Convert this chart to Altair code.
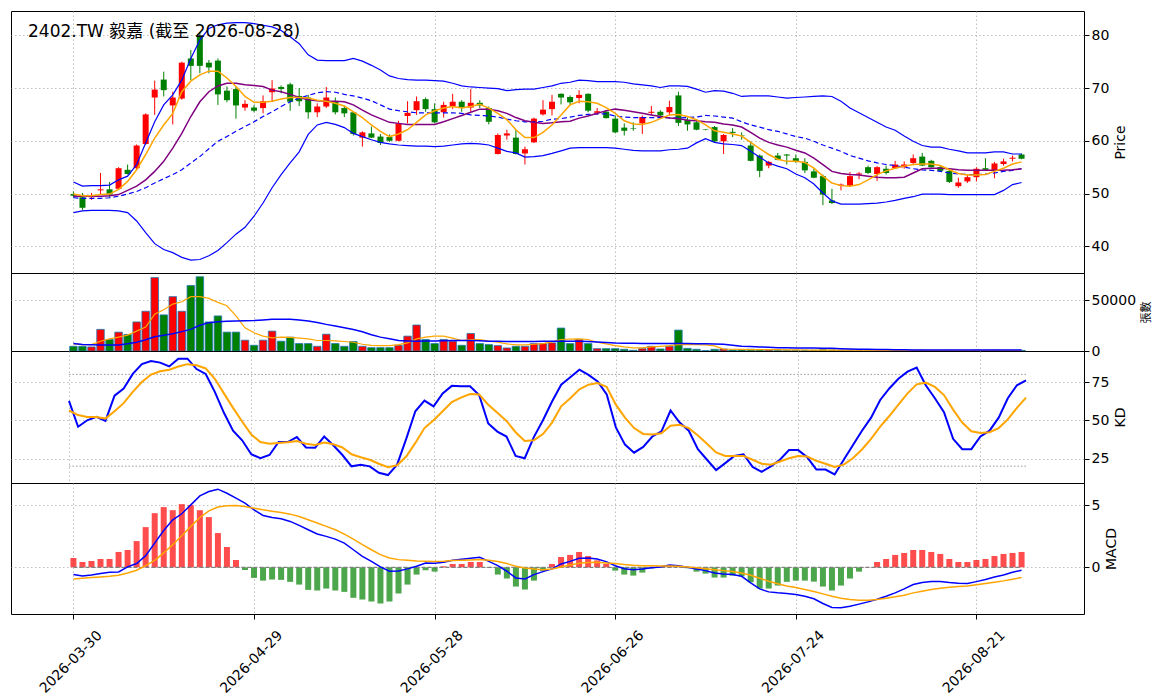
import altair as alt
import pandas as pd

FONT = "DejaVu Sans, Noto Sans CJK TC"
TITLE = "2402.TW 毅嘉 (截至 2026-08-28)"
TICK_IDX = [0, 20, 40, 60, 80, 100]
TICK_LABELS = ["2026-03-30", "2026-04-29", "2026-05-28", "2026-06-26", "2026-07-24", "2026-08-21"]
KD_LEVELS = [20, 80]

OPEN = [49.9, 49.3, 49.3, 50.6, 50.8, 50.9, 54.5, 54.8, 59.4, 68.2,
        71.6, 66.7, 68.0, 75.6, 79.9, 74.8, 75.2, 69.5, 69.8, 66.3,
        66.3, 66.2, 69.2, 70.2, 70.7, 68.5, 68.2, 65.4, 66.5, 67.4,
        66.2, 65.4, 60.6, 61.4, 60.8, 60.7, 60.0, 64.7, 65.8, 67.9,
        66.0, 65.4, 66.5, 67.4, 66.3, 67.2, 66.2, 57.5, 61.0, 60.6,
        57.6, 59.7, 65.0, 66.0, 68.9, 68.3, 68.1, 68.9, 65.3, 65.5,
        64.2, 62.5, 62.4, 63.3, 65.3, 65.5, 65.4, 68.6, 64.0, 63.5,
        62.15, 62.6, 59.9, 61.7, 61.1, 59.1, 57.2, 55.3, 57.2, 57.4,
        56.7, 56.0, 54.2, 53.3, 48.7, 51.5, 51.5, 53.6, 55.0, 53.7,
        54.7, 54.8, 55.0, 55.8, 57.0, 56.2, 55.0, 54.3, 51.4, 52.3,
        53.1, 54.8, 54.4, 55.6, 56.6, 57.4]
CLOSE = [49.6, 47.3, 49.5, 50.8, 49.8, 54.8, 53.7, 59.1, 65.0, 69.7,
         69.6, 68.2, 74.8, 74.2, 74.2, 73.9, 68.8, 67.7, 66.7, 67.0,
         65.7, 67.5, 69.9, 69.8, 67.4, 67.5, 65.4, 66.5, 68.2, 65.4,
         65.2, 61.3, 61.6, 60.6, 59.6, 60.0, 63.3, 65.3, 67.5, 66.0,
         63.5, 66.8, 67.4, 66.2, 67.2, 66.7, 63.6, 61.1, 61.4, 57.5,
         58.4, 64.2, 65.9, 67.4, 68.2, 67.3, 68.7, 65.7, 65.6, 64.3,
         61.6, 61.9, 62.3, 64.5, 65.5, 64.8, 66.4, 63.4, 63.1, 62.1,
         62.05, 59.9, 61.1, 61.5, 61.0, 56.2, 54.3, 56.0, 56.4, 57.2,
         56.0, 54.4, 53.0, 49.8, 48.2, 51.7, 53.3, 53.8, 53.9, 55.0,
         53.9, 55.5, 55.5, 56.7, 55.3, 55.0, 54.3, 52.2, 52.1, 53.1,
         54.7, 54.5, 55.7, 56.1, 56.8, 56.6]
HIGH = [50.4, 50.1, 50.1, 53.9, 52.2, 55.0, 55.5, 59.3, 65.2, 71.4,
        73.1, 69.3, 75.0, 77.2, 80.6, 75.3, 75.6, 70.3, 70.3, 67.7,
        66.8, 68.6, 71.5, 70.5, 71.0, 70.0, 68.7, 67.1, 70.2, 68.2,
        66.6, 65.5, 61.8, 62.7, 61.3, 61.2, 63.8, 67.5, 68.4, 68.2,
        67.1, 67.4, 68.9, 67.7, 69.8, 67.7, 66.5, 61.4, 62.1, 62.1,
        58.9, 64.4, 67.7, 68.7, 69.0, 68.6, 69.6, 69.0, 66.2, 65.8,
        64.8, 63.3, 63.5, 64.8, 66.6, 65.8, 67.6, 69.3, 64.4, 63.7,
        62.2, 62.8, 61.3, 62.4, 61.6, 59.9, 57.4, 56.2, 57.7, 57.5,
        57.4, 56.7, 54.8, 53.6, 50.9, 51.9, 54.1, 54.1, 55.3, 55.2,
        55.3, 56.2, 56.1, 57.4, 57.7, 56.4, 55.3, 54.5, 53.0, 53.6,
        55.0, 56.7, 56.0, 56.6, 57.2, 57.6]
LOW = [49.2, 46.9, 48.8, 49.8, 49.2, 50.7, 53.6, 54.6, 59.2, 64.9,
       68.4, 63.1, 67.8, 71.5, 72.8, 72.8, 66.8, 67.3, 64.2, 65.7,
       65.4, 65.2, 67.4, 69.0, 65.7, 66.6, 64.2, 64.5, 66.2, 65.0,
       64.5, 61.0, 58.9, 60.5, 59.2, 59.8, 59.9, 63.3, 64.9, 65.5,
       63.3, 64.4, 66.0, 65.5, 65.5, 66.2, 63.1, 57.4, 60.2, 57.4,
       55.5, 59.6, 64.8, 64.8, 66.9, 66.8, 67.1, 65.4, 64.9, 64.2,
       61.4, 61.0, 61.9, 61.3, 64.8, 64.6, 64.9, 62.8, 61.9, 62.0,
       62.0, 59.7, 57.5, 60.7, 60.2, 56.1, 53.1, 54.8, 56.3, 55.5,
       55.8, 53.9, 52.9, 47.8, 48.0, 50.6, 51.3, 52.7, 53.7, 52.4,
       53.6, 54.7, 54.7, 55.6, 55.2, 54.9, 54.1, 52.0, 51.1, 52.0,
       52.3, 54.3, 52.9, 55.3, 56.1, 56.5]
MA5 = [49.9, 49.6, 49.6, 49.8, 49.9, 50.8, 52.3, 54.5, 57.4, 60.5,
       63.0, 65.2, 69.3, 71.3, 72.5, 73.2, 73.2, 71.9, 70.3, 68.4,
       67.3, 67.3, 67.5, 67.9, 68.2, 68.2, 68.1, 67.7, 67.5, 67.1,
       66.6, 65.5, 64.4, 63.0, 61.8, 60.8, 61.3, 62.1, 63.5, 64.9,
       65.7, 66.2, 66.5, 66.2, 66.5, 66.9, 66.2, 65.2, 64.0, 62.1,
       60.6, 60.6, 61.6, 63.0, 64.9, 66.8, 67.5, 67.4, 67.1, 66.3,
       65.2, 63.8, 63.2, 63.1, 63.5, 64.2, 64.9, 65.0, 64.6, 64.0,
       63.0, 61.9, 61.6, 61.3, 60.9, 59.7, 58.5, 57.4, 56.5, 56.1,
       56.1, 55.9, 54.8, 53.3, 52.0, 51.5, 51.4, 51.7, 52.6, 53.6,
       54.3, 54.8, 55.2, 55.5, 55.6, 55.6, 55.3, 54.5, 53.8, 53.5,
       53.5, 53.6, 54.2, 54.8, 55.6, 56.0]
MA10 = [49.5, 49.5, 49.5, 49.5, 49.6, 49.8, 50.6, 51.4, 52.6, 54.2,
        56.1, 58.6, 61.4, 64.6, 67.4, 69.3, 70.4, 70.9, 70.9, 70.6,
        70.5, 70.3, 69.6, 69.3, 68.8, 68.2, 67.8, 67.6, 67.5, 67.5,
        67.4, 66.8, 65.8, 64.9, 64.2, 63.5, 63.3, 63.1, 63.1, 63.1,
        63.1, 63.6, 64.2, 64.8, 65.4, 66.0, 66.0, 65.7, 65.2, 64.4,
        63.8, 63.5, 63.3, 63.4, 63.6, 63.7, 64.3, 64.7, 65.2, 65.7,
        66.0, 65.8, 65.5, 65.2, 64.9, 64.6, 64.3, 64.2, 63.9, 63.8,
        63.6, 63.5, 63.2, 63.0, 62.6, 61.6, 60.5, 59.7, 59.2, 58.8,
        58.2, 57.7, 56.7, 55.5, 54.2, 53.8, 53.6, 53.5, 53.3, 53.1,
        53.0, 53.0, 53.1, 53.9, 54.7, 54.8, 54.8, 54.7, 54.5, 54.4,
        54.4, 54.4, 54.4, 54.4, 54.5, 54.7]
BB_MID = [49.2, 49.1, 49.1, 49.1, 49.2, 49.5, 49.9, 50.4, 51.1, 52.0,
          52.8, 53.6, 54.5, 55.8, 57.0, 58.5, 59.9, 60.8, 61.8, 62.7,
          63.6, 64.6, 65.5, 66.5, 67.4, 68.1, 68.6, 69.1, 69.3, 69.2,
          68.8, 68.5, 68.1, 67.6, 66.8, 66.0, 65.7, 65.5, 65.3, 65.3,
          65.3, 65.3, 65.3, 65.2, 64.9, 64.8, 64.7, 64.5, 64.1, 63.8,
          63.6, 63.6, 63.7, 64.1, 64.2, 64.5, 64.8, 65.0, 65.1, 65.1,
          64.7, 64.5, 64.4, 64.4, 64.4, 64.4, 64.4, 64.3, 64.4, 64.5,
          64.8, 64.7, 64.5, 64.3, 63.6, 63.0, 62.6, 62.1, 61.8, 61.3,
          60.8, 60.5, 59.9, 59.2, 58.6, 58.0, 57.2, 56.7, 56.2, 55.8,
          55.5, 55.3, 55.0, 54.7, 54.5, 54.4, 54.2, 53.9, 53.7, 53.6,
          53.6, 53.7, 53.9, 54.2, 54.4, 54.7]
BB_UP = [52.2, 51.4, 51.5, 51.5, 51.6, 52.6, 53.3, 55.5, 59.6, 63.6,
         66.8, 68.7, 71.5, 75.6, 79.1, 81.3, 82.0, 82.3, 82.4, 82.4,
         82.2, 81.9, 81.6, 80.9, 79.7, 78.4, 76.3, 75.3, 75.2, 75.2,
         75.2, 75.6, 75.1, 74.3, 73.4, 72.3, 71.8, 71.6, 71.5, 71.5,
         71.4, 71.3, 70.9, 70.4, 70.2, 70.1, 70.0, 69.9, 69.5, 69.7,
         69.8, 69.8, 70.1, 70.4, 70.9, 71.1, 71.5, 71.4, 71.2, 71.2,
         71.2, 71.1, 70.8, 70.6, 70.4, 70.1, 70.4, 70.4, 70.3, 69.8,
         69.2, 69.5, 69.4, 69.0, 68.4, 68.5, 68.5, 68.5, 68.3, 68.1,
         68.2, 68.3, 68.4, 68.5, 68.4, 67.5, 66.2, 65.3, 64.4, 63.5,
         62.6, 62.0, 60.9, 59.9, 59.1, 58.8, 58.8, 58.4, 58.1, 57.7,
         57.7, 57.7, 57.9, 57.9, 57.5, 57.5]
BB_LOW = [46.4, 46.7, 46.8, 46.8, 46.8, 46.7, 46.4, 44.8, 42.6, 40.5,
          39.4, 38.8, 37.9, 37.4, 37.5, 38.2, 39.2, 40.7, 42.3, 43.6,
          45.7, 48.2, 51.1, 53.6, 55.8, 57.9, 61.2, 63.0, 63.5, 63.1,
          62.5, 61.4, 60.8, 60.2, 59.7, 59.4, 59.2, 59.1, 59.0, 59.0,
          58.9, 59.0, 59.2, 59.4, 59.5, 59.4, 59.2, 58.6, 58.0, 57.7,
          56.9, 57.0, 57.2, 57.6, 58.1, 58.6, 58.7, 58.7, 58.7, 58.7,
          58.6, 58.4, 58.2, 58.1, 58.1, 58.1, 58.3, 58.4, 58.6, 59.6,
          60.4, 59.7, 59.4, 59.3, 59.1, 58.0, 56.9, 55.8, 55.2, 54.7,
          53.7, 53.0, 51.8, 50.1, 48.6, 48.0, 48.0, 48.0, 48.1, 48.2,
          48.4, 48.7, 49.1, 49.4, 49.9, 49.9, 49.9, 49.8, 49.8, 49.8,
          49.8, 49.8, 49.8, 50.6, 51.7, 52.1]
VOL = [4600, 4600, 4000, 21200, 11300, 18500, 16200, 28500, 39000, 72000,
       35400, 53300, 39000, 64200, 72800, 28500, 34400, 18500, 18500, 10600,
       5600, 10600, 19500, 9600, 13600, 7300, 7300, 4600, 16500, 7300,
       4600, 9300, 4600, 3300, 3300, 3300, 5600, 14600, 25500, 11300,
       7300, 11300, 9600, 5600, 17200, 7300, 6300, 5300, 3000, 4600,
       4600, 7300, 7300, 8000, 22500, 7300, 11300, 7300, 2300, 2300,
       2300, 1700, 700, 2300, 4600, 2000, 4600, 20500, 2600, 1700,
       300, 1700, 2000, 1000, 1300, 1700, 1300, 1000, 700, 700,
       700, 700, 700, 1300, 1000, 700, 800, 600, 500, 700,
       500, 600, 500, 700, 800, 500, 400, 700, 500, 500,
       900, 600, 800, 500, 400, 600]
VOL_MA5 = [7000, 6300, 6300, 9600, 11900, 13600, 15600, 19500, 23500, 36100,
           40400, 46000, 48300, 53300, 53300, 51600, 47700, 44400, 34400, 22800,
           17900, 14600, 12900, 13600, 13300, 12600, 11900, 10300, 10300, 9900,
           9300, 8600, 6600, 5600, 5300, 5300, 6300, 7900, 11900, 13600,
           14600, 14600, 12600, 10300, 11300, 11300, 9600, 8600, 7000, 6000,
           6000, 6600, 7300, 9000, 11300, 11600, 11900, 11300, 8600, 7000,
           5300, 4000, 3000, 3000, 4000, 4600, 5300, 6300, 6300, 6300,
           6000, 5000, 1900, 1700, 1500, 1400, 1400, 1400, 1300, 1200,
           1100, 1000, 800, 800, 900, 900, 900, 900, 800, 700,
           650, 600, 600, 600, 600, 600, 600, 600, 600, 550,
           600, 600, 650, 650, 650, 600]
VOL_MA20 = [7300, 6300, 6200, 6000, 6000, 6000, 7000, 8600, 11000, 13900,
            15500, 16900, 19000, 21200, 25200, 27800, 28800, 29200, 29500, 29700,
            29800, 30500, 31100, 31100, 31100, 30500, 29500, 28000, 26100, 24500,
            22800, 21000, 18900, 16000, 13600, 12000, 10300, 9900, 9600, 9700,
            9900, 10100, 10300, 10300, 10300, 10000, 9600, 9500, 9300, 9300,
            9300, 9400, 9600, 9600, 9600, 9600, 9600, 9300, 8900, 8400,
            7900, 7700, 7600, 7400, 7300, 7300, 7300, 7300, 7300, 7200,
            7000, 6800, 6600, 5600, 4600, 4300, 4000, 3600, 3300, 3100,
            3000, 3000, 3000, 2800, 2600, 2300, 2000, 1800, 1700, 1500,
            1400, 1300, 1200, 1100, 1100, 1000, 1000, 1000, 1000, 950,
            950, 950, 900, 900, 900, 900]
K = [62.7, 45.8, 50.0, 52.3, 49.6, 66.1, 70.8, 80.3, 86.7, 88.8,
     87.7, 85.2, 90.3, 90.3, 83.5, 80.3, 68.6, 54.9, 43.2, 36.9,
     27.8, 25.2, 27.3, 35.8, 35.8, 39.0, 32.2, 32.0, 39.4, 33.7,
     27.3, 19.9, 21.0, 19.9, 15.7, 14.2, 21.0, 37.9, 55.9, 62.9,
     59.1, 67.6, 72.5, 72.2, 72.2, 66.5, 47.9, 42.6, 39.4, 26.7,
     25.2, 39.0, 50.0, 62.3, 73.3, 78.2, 83.1, 79.7, 75.4, 66.9,
     45.3, 34.1, 28.8, 32.6, 39.4, 42.8, 56.4, 48.5, 43.2, 31.1,
     24.2, 17.4, 22.0, 26.7, 27.8, 19.5, 16.3, 19.9, 24.2, 30.5,
     30.5, 25.8, 17.8, 17.8, 14.6, 24.2, 33.7, 43.2, 51.7, 63.3,
     70.8, 77.1, 81.8, 84.5, 72.9, 64.4, 55.3, 37.9, 31.1, 31.1,
     39.4, 43.2, 51.7, 64.4, 72.9, 76.1]
D = [56.4, 53.4, 52.1, 52.1, 51.1, 55.9, 61.2, 68.6, 75.0, 79.9,
     82.0, 83.1, 85.2, 86.7, 86.0, 83.9, 77.1, 67.6, 58.1, 49.2,
     40.7, 35.8, 34.7, 35.2, 35.6, 36.4, 34.7, 33.9, 35.4, 34.3,
     32.2, 27.8, 25.8, 24.2, 21.6, 19.3, 20.6, 26.3, 35.2, 44.9,
     50.0, 55.9, 61.9, 64.8, 67.2, 66.9, 60.2, 54.9, 49.6, 42.2,
     36.4, 36.9, 41.0, 48.5, 59.1, 64.4, 70.3, 73.3, 74.4, 71.8,
     60.2, 51.7, 44.9, 41.1, 40.7, 41.5, 46.4, 47.0, 44.9, 40.0,
     34.7, 29.0, 26.7, 26.7, 26.7, 24.2, 21.6, 21.0, 23.1, 25.2,
     26.7, 26.3, 23.5, 21.6, 19.5, 21.0, 25.2, 30.9, 37.9, 45.8,
     52.8, 60.2, 67.6, 73.5, 74.6, 71.8, 66.5, 57.0, 48.5, 42.8,
     41.7, 42.2, 44.9, 50.6, 58.1, 64.8]
DIF = [-0.59, -0.70, -0.62, -0.51, -0.40, -0.38, 0.03, 0.30, 0.94, 1.96,
       2.98, 3.84, 4.33, 5.05, 5.78, 6.13, 6.32, 5.99, 5.59, 5.19,
       4.65, 4.19, 4.03, 3.92, 3.71, 3.39, 3.04, 2.69, 2.50, 2.28,
       1.96, 1.42, 0.89, 0.48, 0.03, -0.32, -0.30, -0.13, 0.08, 0.35,
       0.32, 0.40, 0.56, 0.65, 0.73, 0.81, 0.48, 0.13, -0.32, -0.86,
       -0.94, -0.59, -0.35, -0.13, 0.27, 0.48, 0.73, 0.75, 0.67, 0.46,
       0.13, -0.11, -0.19, -0.13, -0.03, 0.03, 0.19, 0.13, 0.00, -0.13,
       -0.27, -0.46, -0.54, -0.59, -0.73, -1.26, -1.75, -1.99, -2.07, -2.12,
       -2.20, -2.34, -2.55, -2.93, -3.25, -3.28, -3.15, -2.98, -2.80, -2.58,
       -2.34, -2.07, -1.75, -1.40, -1.24, -1.16, -1.16, -1.24, -1.29, -1.32,
       -1.16, -0.99, -0.78, -0.62, -0.40, -0.24]
DEA = [-0.94, -0.89, -0.83, -0.78, -0.73, -0.65, -0.46, -0.24, 0.13, 0.56,
       1.16, 1.83, 2.55, 3.31, 4.03, 4.57, 4.87, 4.97, 5.00, 4.92,
       4.78, 4.65, 4.54, 4.44, 4.30, 4.11, 3.84, 3.58, 3.31, 3.04,
       2.69, 2.28, 1.83, 1.42, 1.02, 0.75, 0.62, 0.56, 0.51, 0.48,
       0.46, 0.48, 0.54, 0.56, 0.59, 0.62, 0.56, 0.46, 0.30, 0.08,
       -0.05, -0.13, -0.19, -0.13, 0.03, 0.19, 0.32, 0.38, 0.40, 0.35,
       0.30, 0.22, 0.16, 0.13, 0.13, 0.11, 0.11, 0.08, 0.03, -0.03,
       -0.11, -0.19, -0.27, -0.35, -0.46, -0.65, -0.89, -1.13, -1.34, -1.51,
       -1.64, -1.80, -1.96, -2.15, -2.34, -2.50, -2.61, -2.66, -2.66, -2.61,
       -2.50, -2.39, -2.26, -2.07, -1.94, -1.80, -1.69, -1.61, -1.56, -1.51,
       -1.42, -1.32, -1.21, -1.10, -0.97, -0.83]
HIST = [0.75, 0.43, 0.51, 0.67, 0.67, 1.24, 1.40, 2.12, 3.25, 4.38,
        4.87, 4.62, 5.11, 5.03, 4.62, 4.06, 2.77, 1.64, 0.59, -0.22,
        -0.86, -1.08, -0.99, -1.02, -1.18, -1.40, -1.83, -1.88, -1.72, -1.88,
        -1.99, -2.47, -2.61, -2.77, -2.93, -2.77, -2.12, -1.40, -0.59, -0.24,
        -0.35, 0.08, 0.27, 0.27, 0.43, 0.43, -0.03, -0.59, -0.91, -1.56,
        -1.80, -1.08, -0.30, 0.27, 0.83, 1.00, 1.24, 0.91, 0.56, 0.27,
        -0.27, -0.59, -0.67, -0.43, -0.10, -0.03, 0.08, 0.03, -0.08, -0.35,
        -0.51, -0.83, -0.83, -0.67, -0.73, -1.21, -1.72, -1.72, -1.48, -1.18,
        -1.08, -1.08, -1.16, -1.56, -1.88, -1.48, -0.91, -0.35, 0.02, 0.43,
        0.67, 1.00, 1.16, 1.40, 1.40, 1.24, 1.08, 0.67, 0.43, 0.43,
        0.59, 0.67, 0.91, 1.08, 1.16, 1.24]

n = len(CLOSE)
df = pd.DataFrame({
    "i": list(range(n)), "o": OPEN, "h": HIGH, "l": LOW, "c": CLOSE,
    "ma5": MA5, "ma10": MA10, "bbm": BB_MID, "bbu": BB_UP, "bbl": BB_LOW,
    "v": VOL, "vma5": VOL_MA5, "vma20": VOL_MA20,
    "k": K, "d": D, "dif": DIF, "dea": DEA, "hist": HIST,
})

W = 1073
GRID = dict(grid=True, gridColor="#b0b0b0", gridDash=[1.5, 2.5], gridWidth=0.8)
xscale = alt.Scale(domain=[-6.36, n - 1 + 6.36], nice=False, zero=False)

label_expr = " : ".join(
    f"datum.value == {v} ? '{s}'" for v, s in zip(TICK_IDX, TICK_LABELS)
) + " : ''"

ax_top = alt.Axis(values=TICK_IDX, labels=False, ticks=False, domain=False, title=None, **GRID)
ax_bot = alt.Axis(values=TICK_IDX, labelExpr=label_expr, labelAngle=315,
                  labelAlign="right", labelBaseline="top", labelOverlap=False,
                  labelFlush=False, domain=False, title=None, tickSize=5,
                  labelPadding=9, labelOffset=21, **GRID)


def XT(field="i"):
    return alt.X(f"{field}:Q", scale=xscale, axis=ax_top)


def XB(field="i"):
    return alt.X(f"{field}:Q", scale=xscale, axis=ax_bot)


def yax(values, title, domain, tsize=14, fmt="d"):
    scale = alt.Scale(domain=domain, nice=False, zero=False)
    axis = alt.Axis(orient="right", values=values, title=title, titleAngle=270,
                    titleBaseline="top", titlePadding=5, titleFontSize=tsize,
                    format=fmt, labelFlush=False, labelOverlap=False, **GRID)
    return scale, axis


ps, pa = yax([40, 50, 60, 70, 80], "Price", [34.94, 84.6])
vs, va = yax([0, 50000], "張數", [0, 76500], tsize=11)
ks, ka = yax([25, 50, 75], "KD", [9.0, 95.3])
ms, ma = yax([0, 5], "MACD", [-3.78, 6.82])


def Y(field, scale, axis):
    return alt.Y(f"{field}:Q", scale=scale, axis=axis)


base = alt.Chart(df)
candle_col = alt.condition("datum.c >= datum.o", alt.value("#ff0000"), alt.value("#008000"))

# ---- price panel
wick = base.mark_rule(strokeWidth=1).encode(x=XT(), y=Y("l", ps, pa), y2="h:Q", color=candle_col)
body = base.mark_bar(size=6).encode(x=XT(), y=Y("o", ps, pa), y2="c:Q", color=candle_col)
bbu = base.mark_line(color="blue", strokeWidth=1.2).encode(x=XT(), y=Y("bbu", ps, pa))
bbl = base.mark_line(color="blue", strokeWidth=1.2).encode(x=XT(), y=Y("bbl", ps, pa))
bbm = base.mark_line(color="blue", strokeWidth=1.2, strokeDash=[5, 3]).encode(x=XT(), y=Y("bbm", ps, pa))
ma10 = base.mark_line(color="purple", strokeWidth=1.5).encode(x=XT(), y=Y("ma10", ps, pa))
ma5 = base.mark_line(color="orange", strokeWidth=1.5).encode(x=XT(), y=Y("ma5", ps, pa))
title = alt.Chart(pd.DataFrame({"t": [TITLE]})).mark_text(
    align="left", baseline="middle", fontSize=17, font=FONT, color="black"
).encode(x=alt.value(17), y=alt.value(21), text="t:N")
price = alt.layer(wick, body, bbu, bbl, bbm, ma10, ma5, title).properties(width=W, height=262)

# ---- volume panel
vbar = base.mark_bar(size=7.5, stroke="#1f77b4", strokeWidth=0.8).encode(
    x=XT(), y=Y("v", vs, va), color=candle_col)
vma5 = base.mark_line(color="orange", strokeWidth=1.2).encode(x=XT(), y=Y("vma5", vs, va))
vma20 = base.mark_line(color="blue", strokeWidth=1.5).encode(x=XT(), y=Y("vma20", vs, va))
volume = alt.layer(vbar, vma5, vma20).properties(width=W, height=78)

# ---- KD panel
ref = alt.Chart(pd.DataFrame({"lv": KD_LEVELS, "x0": [0] * len(KD_LEVELS),
                              "x1": [n - 1] * len(KD_LEVELS)})).mark_rule(
    color="#999999", strokeDash=[1.5, 2], strokeWidth=1
).encode(x=XT("x0"), x2="x1:Q", y=Y("lv", ks, ka))
kline = base.mark_line(color="blue", strokeWidth=2).encode(x=XT(), y=Y("k", ks, ka))
dline = base.mark_line(color="orange", strokeWidth=2).encode(x=XT(), y=Y("d", ks, ka))
kd = alt.layer(ref, kline, dline).properties(width=W, height=132)

# ---- MACD panel
hist_col = alt.condition("datum.hist >= 0", alt.value("#ff0000"), alt.value("#008000"))
hbar = base.mark_bar(size=6, opacity=0.7).encode(x=XB(), y=Y("hist", ms, ma), color=hist_col)
zero = alt.Chart(pd.DataFrame({"z": [0], "x0": [0], "x1": [n - 1]})).mark_rule(
    color="gray", strokeDash=[4, 2], strokeWidth=1.2
).encode(x=XB("x0"), x2="x1:Q", y=Y("z", ms, ma))
difl = base.mark_line(color="blue", strokeWidth=1.5).encode(x=XB(), y=Y("dif", ms, ma))
deal = base.mark_line(color="orange", strokeWidth=1.5).encode(x=XB(), y=Y("dea", ms, ma))
macd = alt.layer(hbar, zero, difl, deal).properties(width=W, height=131)

chart = alt.vconcat(price, volume, kd, macd, spacing=0, bounds="flush").properties(
    padding={"left": 2, "top": 2, "right": 2, "bottom": 2},
    background="white",
).configure_view(stroke="black", strokeWidth=1).configure_axis(
    labelFont=FONT, titleFont=FONT, labelFontSize=14, titleFontWeight="normal",
    labelColor="black", titleColor="black", tickColor="black", tickSize=5,
    domain=False,
)

chart.save("out.html", embed_options={"renderer": "svg", "actions": False})
